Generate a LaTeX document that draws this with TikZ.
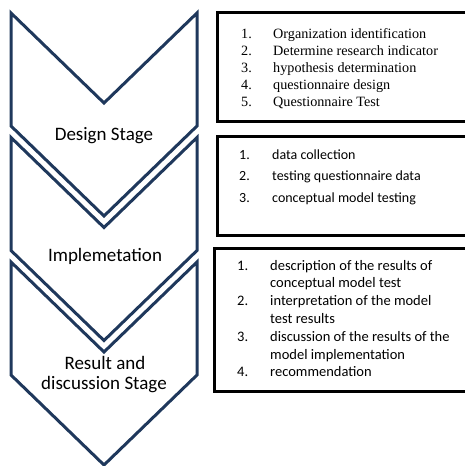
\documentclass[tikz,border=0pt]{standalone}
\usepackage{fontspec}
\setmainfont{Liberation Serif}
\newfontfamily\calibri{Carlito}
\definecolor{navy}{RGB}{31,56,92}
\tikzstyle{chevron} = [draw=navy, line width=3pt, line join=miter]
\tikzstyle{stage} = [anchor=base, inner sep=0pt, font=\calibri\fontsize{19}{20}\selectfont]
\tikzstyle{listbox} = [rectangle, draw, line width=3pt]
\tikzstyle{serifitem} = [anchor=base west, inner sep=0pt, font=\fontsize{14.2}{17}\selectfont]
\tikzstyle{sansitem} = [anchor=base west, inner sep=0pt, font=\calibri\fontsize{14.5}{17}\selectfont]

\begin{document}
\begin{tikzpicture}[x=1pt,y=-1pt]
        \useasboundingbox (0,0) rectangle (464,466);
        % the three stage chevrons
        \foreach \y in {13,137.5,262}
            \draw [chevron] (11,\y) -- (104,\y+90) -- (197,\y) -- (197,\y+113) -- (104,\y+203) -- (11,\y+113) -- cycle;
        \node [stage] at (104,140) (design) {Design Stage};
        \node [stage] at (105,261) (impl) {Implemetation};
        \node [stage] at (105,369.5) (result) {Result and};
        \node [stage] at (104,389.5) (discussion) {discussion Stage};
        % the lists
        \node [listbox, minimum width=253pt, minimum height=109pt] at (343.5,66.5) (box1) {};
        \node [listbox, minimum width=253pt, minimum height=99pt] at (343.5,185.5) (box2) {};
        \node [listbox, minimum width=256pt, minimum height=143pt] at (342,319.5) (box3) {};
        \foreach \txt [count=\i] in {Organization identification, Determine research indicator, hypothesis determination, questionnaire design, Questionnaire Test} {
            \node [serifitem] at (241,20.9+17.1*\i) (num1\i) {\i.};
            \node [serifitem] at (273,20.9+17.1*\i) (item1\i) {\txt};
        }
        \foreach \txt [count=\i] in {data collection, testing questionnaire data, conceptual model testing} {
            \node [sansitem, font=\calibri\fontsize{14}{17}\selectfont] at (239,137.5+21.5*\i) (num2\i) {\i.};
            \node [sansitem, font=\calibri\fontsize{14}{17}\selectfont] at (272,137.5+21.5*\i) (item2\i) {\txt};
        }
        \node [sansitem] at (237,270) (num31) {1.};
        \node [sansitem] at (270,270) (item31) {description of the results of};
        \node [sansitem] at (270,287.8) (item31b) {conceptual model test};
        \node [sansitem] at (237,305.6) (num32) {2.};
        \node [sansitem] at (270,305.6) (item32) {interpretation of the model};
        \node [sansitem] at (270,323.4) (item32b) {test results};
        \node [sansitem] at (237,341.2) (num33) {3.};
        \node [sansitem] at (270,341.2) (item33) {discussion of the results of the};
        \node [sansitem] at (270,359) (item33b) {model implementation};
        \node [sansitem] at (237,376.8) (num34) {4.};
        \node [sansitem] at (270,376.8) (item34) {recommendation};
\end{tikzpicture}
\end{document}
